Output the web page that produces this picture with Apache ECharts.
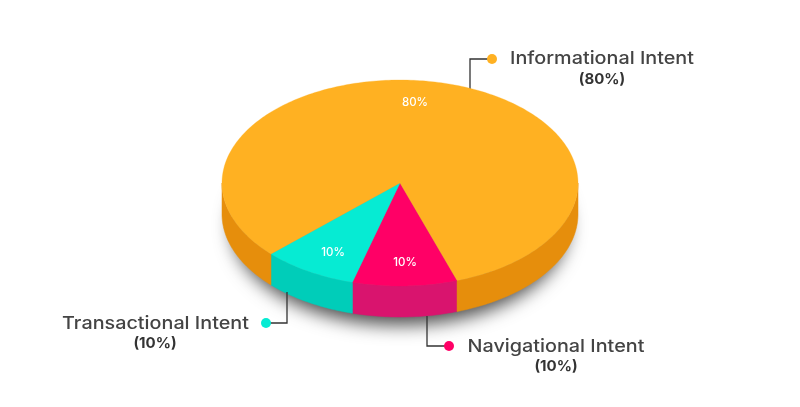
<!DOCTYPE html>
<html>
<head>
<meta charset="utf-8">
<style>html,body{margin:0;padding:0;background:#fff}#c{width:800px;height:407px}</style>
<script src="https://cdn.jsdelivr.net/npm/echarts@6/dist/echarts.min.js"></script>
</head>
<body>
<div id="c"></div>
<script>
// Data, clockwise from the front-right edge of the pie
const categories = ['Navigational Intent', 'Transactional Intent', 'Informational Intent'];
const percentLabels = [10, 10, 80];          // the percentages printed in the picture
const wedgeShares = [9.5, 8.6, 81.9];        // the share of the ellipse each drawn wedge actually covers

// Styling and layout
const topColors = ['#FF0066', '#06EBD3', '#FFB122'];
const wallColors = ['#D9146E', '#00CDB9', '#E68E0C'];
const CX = 400, CY = 183, RX = 178, RY = 103, DEPTH = 31, START = 71.3;
const FONT = 'Inter, "Open Sans", sans-serif';
const layout = [
  { inner: [405, 262], name: [556, 347], pct: [556, 366], dot: [449, 346], path: [[427, 316], [427, 346], [449, 346]] },
  { inner: [333, 252], name: [155.5, 324], pct: [155, 343], dot: [266, 323], path: [[287, 292], [287, 323], [266, 323]] },
  { inner: [415, 102], name: [602, 59], pct: [602, 79], dot: [492, 59], path: [[470, 90], [470, 59], [492, 59]] }
];

let running = START;
const seriesData = wedgeShares.map(function (share, i) {
  const from = running;
  running += share * 3.6;
  return [from, running, percentLabels[i], i];
});

function rim(a, dy) {
  const r = a * Math.PI / 180;
  return [CX + RX * Math.cos(r), CY + dy + RY * Math.sin(r)];
}
function arc(a0, a1, dy) {
  const pts = [], n = Math.max(2, Math.ceil(Math.abs(a1 - a0)));
  for (let k = 0; k <= n; k++) pts.push(rim(a0 + (a1 - a0) * k / n, dy));
  return pts;
}
// the part of a wedge's rim on the near half of the ellipse, 0..180 degrees (mod 360)
function nearRanges(a0, a1) {
  const out = [];
  [0, 360].forEach(function (o) {
    const s = Math.max(a0, o), e = Math.min(a1, o + 180);
    if (e > s) out.push([s, e]);
  });
  return out;
}

const option = {
  backgroundColor: '#fff',
  animation: false,
  series: [
    { // soft ground shadow
      type: 'custom', coordinateSystem: 'none', z: 1, silent: true,
      data: [[0]],
      renderItem: function () {
        return {
          type: 'ellipse',
          shape: { cx: CX, cy: CY + DEPTH, rx: RX - 10, ry: RY - 4 },
          style: { fill: '#888', shadowColor: 'rgba(0,0,0,0.7)', shadowBlur: 18, shadowOffsetY: 12 }
        };
      }
    },
    { // side walls
      type: 'custom', coordinateSystem: 'none', z: 2, silent: true,
      data: seriesData,
      renderItem: function (params, api) {
        const a0 = api.value(0), a1 = api.value(1), i = api.value(3);
        return {
          type: 'group',
          children: nearRanges(a0, a1).map(function (r) {
            return {
              type: 'polygon',
              shape: { points: arc(r[0], r[1], 0).concat(arc(r[1], r[0], DEPTH)) },
              style: { fill: wallColors[i], stroke: wallColors[i], lineWidth: 0.5 }
            };
          })
        };
      }
    },
    { // leader lines and markers
      type: 'custom', coordinateSystem: 'none', z: 3, silent: true,
      data: seriesData,
      renderItem: function (params, api) {
        const i = api.value(3), l = layout[i];
        return {
          type: 'group',
          children: [
            { type: 'polyline', shape: { points: l.path }, style: { fill: null, stroke: '#333', lineWidth: 1.3 } },
            { type: 'circle', shape: { cx: l.dot[0], cy: l.dot[1], r: 5 }, style: { fill: topColors[i] } }
          ]
        };
      }
    },
    { // top faces
      type: 'custom', coordinateSystem: 'none', z: 4, silent: true,
      data: seriesData,
      renderItem: function (params, api) {
        const a0 = api.value(0), a1 = api.value(1), i = api.value(3);
        return {
          type: 'polygon',
          shape: { points: [[CX, CY]].concat(arc(a0, a1, 0)) },
          style: { fill: topColors[i], stroke: topColors[i], lineWidth: 0.3 }
        };
      }
    },
    { // all text
      type: 'custom', coordinateSystem: 'none', z: 5, silent: true,
      data: seriesData,
      renderItem: function (params, api) {
        const i = api.value(3), l = layout[i], pct = api.value(2) + '%';
        const t = function (pos, text, size, weight, color, sx) {
          return {
            type: 'text', x: pos[0], y: pos[1], scaleX: sx || 1,
            style: { x: 0, y: 0, text: text, fill: color, align: 'center', verticalAlign: 'middle', font: weight + ' ' + size + 'px ' + FONT }
          };
        };
        return {
          type: 'group',
          children: [
            t([l.inner[0], l.inner[1] + 1], pct, 11.5, 500, '#ffffff'),
            t(l.name, categories[i], 17.5, 500, '#444444', 1.13),
            t(l.pct, '(' + pct + ')', 15, 700, '#333333')
          ]
        };
      }
    }
  ]
};
echarts.init(document.getElementById('c'), null, { renderer: 'canvas' }).setOption(option);
</script>
</body>
</html>
